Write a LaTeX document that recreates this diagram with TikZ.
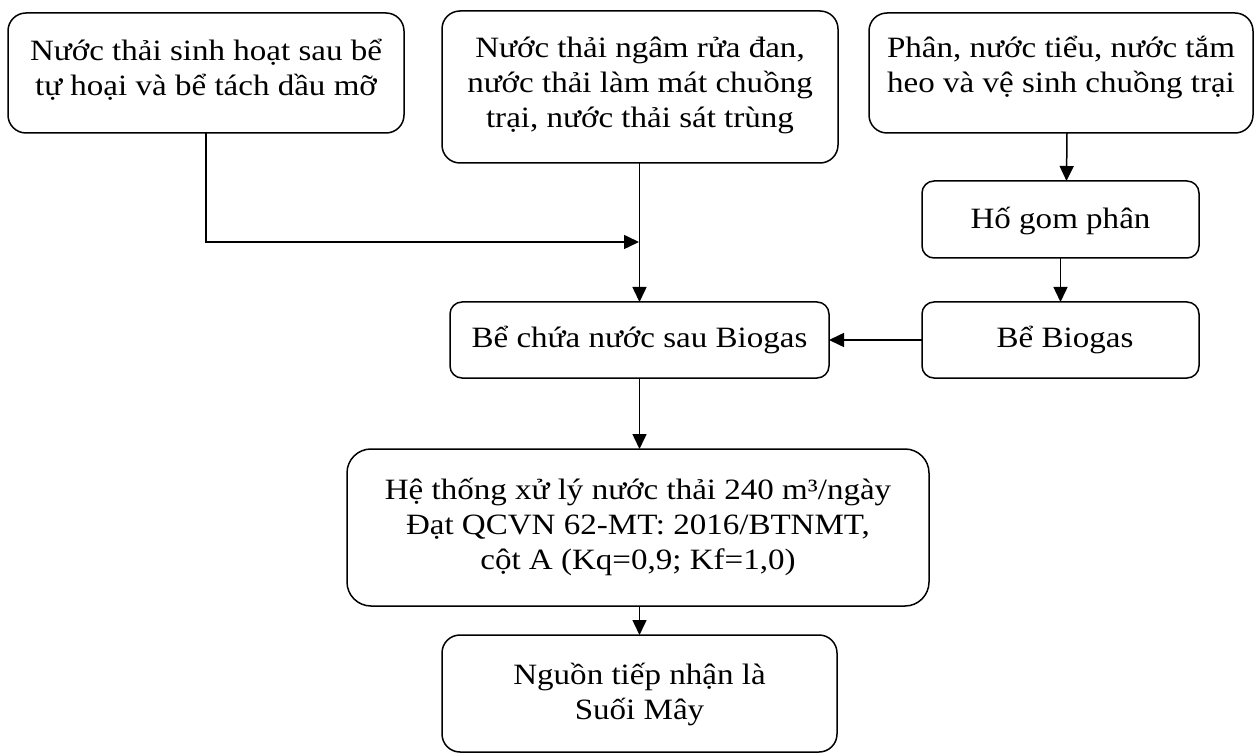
\documentclass[tikz,border=0pt]{standalone}
\usepackage{fontspec}
\setmainfont[FakeStretch=1.12]{Liberation Serif}
\usetikzlibrary{arrows.meta}
\newcommand\tl[1]{\begin{tabular}[t]{@{}c@{}}#1\end{tabular}}
\begin{document}
\begin{tikzpicture}[x=1pt,y=-1pt,
  line width=1.5pt,
  box/.style={draw=black, rounded corners=18pt, inner sep=0pt, outer sep=0pt},
  sbox/.style={box, rounded corners=12pt},
  txt/.style={anchor=base, inner sep=0pt, font=\fontsize{29.5}{35}\selectfont},
  arr/.style={-{Triangle[length=15pt,width=14pt]}, line width=1.5pt}]
\useasboundingbox (0,0) rectangle (1254,754);
% boxes
\node[box, minimum width=396pt, minimum height=120pt] (b1) at (206,73) {};
\node[box, minimum width=396pt, minimum height=152pt] (b2) at (640,87) {};
\node[box, minimum width=384pt, minimum height=120pt] (b3) at (1061,73) {};
\node[sbox, minimum width=277pt, minimum height=77pt] (hg) at (1060.5,219.5) {};
\node[sbox, minimum width=277pt, minimum height=76pt] (bb) at (1060.5,340) {};
\node[sbox, minimum width=379pt, minimum height=76pt] (bc) at (639.5,340) {};
\node[box, rounded corners=24pt, minimum width=582pt, minimum height=157pt] (ht) at (638,527.5) {};
\node[box, minimum width=395pt, minimum height=117pt] (ng) at (639.5,693.5) {};
% texts
\node[txt] (t1) at (206,61) {\tl{Nước thải sinh hoạt sau bể\\tự hoại và bể tách dầu mỡ}};
\node[txt] (t2) at (640,58) {\tl{Nước thải ngâm rửa đan,\\nước thải làm mát chuồng\\trại, nước thải sát trùng}};
\node[txt] (t3) at (1061,58) {\tl{Phân, nước tiểu, nước tắm\\heo và vệ sinh chuồng trại}};
\node[txt] (thg) at (1060.5,229) {Hố gom phân};
\node[txt] (tbb) at (1065,348) {Bể Biogas};
\node[txt] (tbc) at (639.5,348) {Bể chứa nước sau Biogas};
\node[txt] (tht) at (638,499) {\tl{Hệ thống xử lý nước thải 240 m³/ngày\\Đạt QCVN 62-MT: 2016/BTNMT,\\cột A (Kq=0,9; Kf=1,0)}};
\node[txt] (tng) at (639.5,684) {\tl{Nguồn tiếp nhận là\\Suối Mây}};
% connectors
\coordinate (j1) at (639,242);
\draw[arr] (b1.south) |- (j1);
\draw[arr] (b2.south -| bc.north) -- (bc.north);
\draw[arr] ([xshift=6pt]b3.south) -- ([xshift=6pt]hg.north);
\draw[arr] (hg.south) -- (bb.north);
\draw[arr] (bb.west) -- (bc.east);
\draw[arr] (bc.south) -- (bc.south |- ht.north);
\draw[arr] (ht.south -| ng.north) -- (ng.north);
\end{tikzpicture}
\end{document}
